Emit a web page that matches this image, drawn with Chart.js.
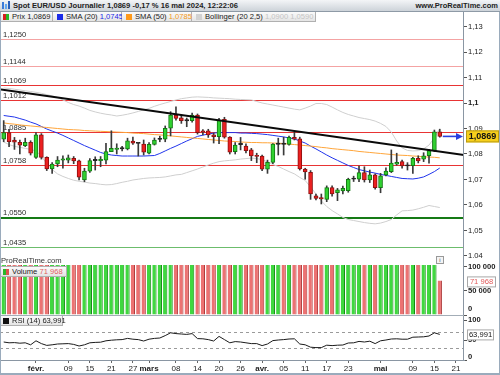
<!DOCTYPE html>
<html>
<head>
<meta charset="utf-8">
<script src="https://cdn.jsdelivr.net/npm/chart.js@4"></script>
<style>
body { margin: 0; background: #fff; font-family: "Liberation Sans", Arial, sans-serif; }
#wrap { position: relative; width: 500px; height: 375px; overflow: hidden; background: #fff; }
canvas { position: absolute; left: 0; }
.t { position: absolute; white-space: nowrap; color: #222; }
.cell { position: absolute; top: 12px; height: 10px; line-height: 10px; font-size: 7.6px; background: linear-gradient(#fbfbfb, #e4e4e4); border-right: 1px solid #b0b0b0; border-bottom: 1px solid #b0b0b0; box-sizing: border-box; white-space: nowrap; color: #222; }
.sq { display: inline-block; width: 6px; height: 6px; vertical-align: -1px; margin: 0 3px 0 4px; }
</style>
</head>
<body>
<div id="wrap">
  <div class="t" style="left:0;top:0;width:500px;height:11px;background:linear-gradient(#f3f5f7,#cdd3d9);border-bottom:1px solid #8e9aa6"></div>
  <div class="t" style="left:2px;top:2px;width:2px;height:7px;background:#3b7bd8"></div>
  <div class="t" style="left:5px;top:4px;width:2px;height:5px;background:#62a8f0"></div>
  <div class="t" style="left:8px;top:1px;width:2px;height:8px;background:#2a5fb8"></div>
  <div class="t" style="left:13px;top:0;line-height:11px;font-size:7.6px;font-weight:bold">Spot EUR/USD Journalier 1,0869 -0,17 % 16 mai 2024, 12:22:06</div>
  <div class="t" style="right:2px;top:0;line-height:11px;font-size:7.5px;font-weight:bold">www.ProRealTime.com</div>

  <canvas id="price" width="500" height="246" style="top:12px"></canvas>
  <canvas id="vol" width="500" height="58" style="top:258px"></canvas>
  <canvas id="rsi" width="500" height="59" style="top:316px"></canvas>

  <div class="cell" style="left:0;width:53px"><span class="sq" style="background:linear-gradient(90deg,#d62020 50%,#28b828 50%);margin-left:3px"></span>Prix 1,0869</div>
  <div class="cell" style="left:53px;width:69px"><span class="sq" style="background:#1a2be8"></span>SMA (20) <span style="color:#1a2be8">1,0745</span></div>
  <div class="cell" style="left:122px;width:70px"><span class="sq" style="background:#ff9a1a"></span>SMA (50) <span style="color:#f39a1a">1,0785</span></div>
  <div class="cell" style="left:192px;width:124px"><span class="sq" style="background:#d2d2d2"></span>Bollinger (20 2,5) <span style="color:#c4c4c4">1,0900 1,0590</span></div>

  <div class="t" style="left:1px;top:256px;font-size:7.6px;line-height:9px;color:#333">ProRealTime.com</div>
  <div class="t" style="left:436px;top:256px;width:6px;height:6px;border:1px solid #999;font-size:6px;line-height:6px;text-align:center;color:#555;background:#f4f4f4">i</div>
  <div class="cell" style="top:266px;left:0;width:67px;border-left:1px solid #b0b0b0;border-top:1px solid #b0b0b0;height:11px"><span class="sq" style="background:linear-gradient(90deg,#28b828 50%,#e05050 50%);margin-left:2px"></span>Volume <span style="color:#e06060">71 968</span></div>
  <div class="cell" style="top:316px;left:0;width:63px;height:10px;border-left:1px solid #b0b0b0"><span class="sq" style="background:#111;margin-left:2px"></span>RSI (14) 63,991</div>

  <div class="t" style="left:463px;top:12px;width:1px;height:349px;background:#8a96a3"></div>
  <div class="t" style="left:0;top:315px;width:464px;height:1px;background:#a3adb7"></div>
  <div class="t" style="left:0;top:12px;width:1px;height:363px;background:#9aabbc"></div>
  <div class="t" style="left:499px;top:12px;width:1px;height:363px;background:#9aabbc"></div>
  <div class="t" style="left:0;top:373px;width:500px;height:2px;background:#9aabbc"></div>
</div>

<script>
// trading days (dd/mm), with a few empty days after the last candle
const dates = [
  '24/01','25/01','26/01','29/01','30/01','31/01',
  '01/02','02/02','05/02','06/02','07/02','08/02','09/02','12/02','13/02','14/02','15/02','16/02',
  '19/02','20/02','21/02','22/02','23/02','26/02','27/02','28/02','29/02',
  '01/03','04/03','05/03','06/03','07/03','08/03','11/03','12/03','13/03','14/03','15/03',
  '18/03','19/03','20/03','21/03','22/03','25/03','26/03','27/03','28/03','29/03',
  '01/04','02/04','03/04','04/04','05/04','08/04','09/04','10/04','11/04','12/04',
  '15/04','16/04','17/04','18/04','19/04','22/04','23/04','24/04','25/04','26/04','29/04','30/04',
  '01/05','02/05','03/05','06/05','07/05','08/05','09/05','10/05','13/05','14/05','15/05','16/05',
  '17/05','20/05','21/05','22/05'
]
const xTicks = ['01/02','09/02','15/02','21/02','27/02','01/03','08/03','14/03','20/03','26/03',
  '01/04','05/04','11/04','17/04','23/04','01/05','09/05','15/05','21/05']
const xTickText = ['févr.','09','15','21','27','mars','08','14','20','26','avr.','05','11','17','23','mai','09','15','21']
const months = ['févr.','mars','avr.','mai']

const opens = [1.0858,1.0884,1.0855,1.0846,1.0833,1.0846,1.0787,1.0875,1.0787,1.0741,
  1.0761,1.0776,1.0776,1.0783,1.0773,1.0698,1.0733,1.0774,1.0774,1.0776,
  1.0809,1.0818,1.0820,1.0820,1.0851,1.0842,1.0839,1.0803,1.0838,1.0857,
  1.0858,1.0901,1.0953,1.0942,1.0931,1.0931,1.0953,1.0888,1.0891,1.0875,
  1.0868,1.0936,1.0866,1.0809,1.0837,1.0831,1.0816,1.0792,1.0792,1.0740,
  1.0767,1.0838,1.0839,1.0838,1.0865,1.0859,1.0741,1.0728,1.0636,1.0626,
  1.0622,1.0668,1.0648,1.0655,1.0656,1.0701,1.0701,1.0727,1.0698,1.0718,
  1.0668,1.0718,1.0731,1.0760,1.0770,1.0754,1.0754,1.0783,1.0780,1.0793,
  1.0813,1.0887]
const highs = [1.0931,1.0897,1.0865,1.0855,1.0862,1.0852,1.0884,1.0880,1.0789,1.0766,
  1.0790,1.0793,1.0796,1.0790,1.0776,1.0744,1.0782,1.0789,1.0790,1.0842,
  1.0891,1.0840,1.0830,1.0862,1.0866,1.0844,1.0855,1.0845,1.0863,1.0870,
  1.0910,1.0966,1.0985,1.0953,1.0941,1.0960,1.0957,1.0896,1.0897,1.0882,
  1.0940,1.0944,1.0868,1.0845,1.0865,1.0840,1.0822,1.0803,1.0796,1.0776,
  1.0841,1.0862,1.0866,1.0870,1.0885,1.0866,1.0744,1.0735,1.0643,1.0643,
  1.0675,1.0675,1.0665,1.0674,1.0705,1.0713,1.0753,1.0750,1.0737,1.0722,
  1.0724,1.0746,1.0816,1.0803,1.0776,1.0766,1.0787,1.0793,1.0805,1.0818,
  1.0894,1.0897]
const lows = [1.0848,1.0829,1.0818,1.0800,1.0829,1.0796,1.0783,1.0780,1.0735,1.0724,
  1.0750,1.0744,1.0765,1.0762,1.0698,1.0691,1.0728,1.0737,1.0750,1.0761,
  1.0809,1.0800,1.0812,1.0816,1.0838,1.0792,1.0796,1.0800,1.0835,1.0848,
  1.0848,1.0871,1.0933,1.0920,1.0907,1.0925,1.0878,1.0875,1.0865,1.0843,
  1.0840,1.0862,1.0800,1.0800,1.0816,1.0804,1.0774,1.0766,1.0735,1.0724,
  1.0762,1.0796,1.0796,1.0835,1.0855,1.0737,1.0701,1.0622,1.0620,1.0604,
  1.0613,1.0635,1.0617,1.0643,1.0650,1.0692,1.0691,1.0690,1.0688,1.0662,
  1.0648,1.0714,1.0727,1.0756,1.0744,1.0737,1.0724,1.0765,1.0770,1.0764,
  1.0809,1.0866]
const closes = [1.0884,1.0848,1.0846,1.0835,1.0846,1.0803,1.0875,1.0787,1.0741,1.0760,
  1.0776,1.0778,1.0785,1.0773,1.0709,1.0733,1.0774,1.0775,1.0776,1.0809,
  1.0822,1.0822,1.0821,1.0852,1.0842,1.0841,1.0807,1.0838,1.0855,1.0858,
  1.0901,1.0953,1.0940,1.0931,1.0930,1.0953,1.0884,1.0886,1.0875,1.0868,
  1.0933,1.0866,1.0807,1.0835,1.0838,1.0813,1.0792,1.0790,1.0740,1.0767,
  1.0839,1.0839,1.0838,1.0865,1.0858,1.0741,1.0730,1.0643,1.0626,1.0624,
  1.0668,1.0643,1.0659,1.0665,1.0701,1.0702,1.0727,1.0698,1.0718,1.0668,
  1.0714,1.0733,1.0764,1.0767,1.0753,1.0753,1.0783,1.0773,1.0793,1.0813,
  1.0887,1.0869]

const sma20 = [1.0951,1.0948,1.0945,1.0939,1.0933,1.0925,1.0918,1.0908,1.0898,1.0890,
  1.0882,1.0873,1.0863,1.0853,1.0843,1.0833,1.0824,1.0815,1.0806,1.0800,
  1.0796,1.0794,1.0792,1.0792,1.0792,1.0792,1.0792,1.0793,1.0794,1.0802,
  1.0812,1.0822,1.0831,1.0841,1.0851,1.0860,1.0869,1.0874,1.0878,1.0882,
  1.0884,1.0884,1.0884,1.0884,1.0882,1.0882,1.0881,1.0880,1.0878,1.0876,
  1.0873,1.0870,1.0867,1.0863,1.0859,1.0851,1.0843,1.0831,1.0820,1.0808,
  1.0796,1.0785,1.0775,1.0765,1.0755,1.0747,1.0739,1.0734,1.0729,1.0725,
  1.0720,1.0716,1.0712,1.0708,1.0704,1.0703,1.0702,1.0705,1.0710,1.0720,
  1.0731,1.0745]
const sma50 = [1.0922,1.0919,1.0917,1.0914,1.0912,1.0910,1.0908,1.0906,1.0904,1.0902,
  1.0900,1.0898,1.0896,1.0895,1.0894,1.0892,1.0891,1.0890,1.0889,1.0888,
  1.0887,1.0886,1.0885,1.0884,1.0882,1.0881,1.0880,1.0878,1.0876,1.0875,
  1.0873,1.0871,1.0869,1.0867,1.0865,1.0863,1.0861,1.0859,1.0857,1.0855,
  1.0853,1.0851,1.0850,1.0849,1.0847,1.0846,1.0845,1.0845,1.0844,1.0844,
  1.0843,1.0842,1.0841,1.0839,1.0837,1.0835,1.0833,1.0831,1.0829,1.0826,
  1.0824,1.0821,1.0819,1.0817,1.0815,1.0813,1.0810,1.0808,1.0806,1.0804,
  1.0802,1.0800,1.0798,1.0796,1.0795,1.0794,1.0792,1.0791,1.0789,1.0788,
  1.0787,1.0785]
const bbUpper = [1.1059,1.1057,1.1054,1.1051,1.1048,1.1045,1.1042,1.1038,1.1033,1.1028,
  1.1022,1.1012,1.1002,1.0994,1.0988,1.0980,1.0971,1.0965,1.0960,1.0956,
  1.0953,1.0949,1.0952,1.0956,1.0961,1.0967,1.0973,1.0979,1.0987,1.0994,
  1.1000,1.1006,1.1012,1.1017,1.1020,1.1023,1.1024,1.1023,1.1022,1.1020,
  1.1019,1.1018,1.1017,1.1015,1.1014,1.1013,1.1012,1.1006,1.1000,1.0996,
  1.0992,1.0988,1.0984,1.0980,1.0976,1.0973,1.0980,1.0988,1.0998,1.0998,
  1.0994,1.0984,1.0973,1.0963,1.0955,1.0949,1.0943,1.0939,1.0935,1.0929,
  1.0920,1.0908,1.0886,1.0851,1.0824,1.0814,1.0812,1.0813,1.0820,1.0835,
  1.0863,1.0900]
const bbLower = [1.0847,1.0837,1.0830,1.0826,1.0822,1.0818,1.0812,1.0792,1.0761,1.0739,
  1.0722,1.0712,1.0704,1.0697,1.0693,1.0690,1.0686,1.0684,1.0681,1.0679,
  1.0680,1.0684,1.0689,1.0693,1.0698,1.0701,1.0704,1.0706,1.0707,1.0708,
  1.0710,1.0714,1.0718,1.0720,1.0727,1.0734,1.0741,1.0749,1.0757,1.0764,
  1.0770,1.0773,1.0775,1.0777,1.0780,1.0782,1.0784,1.0782,1.0778,1.0769,
  1.0759,1.0751,1.0741,1.0731,1.0722,1.0708,1.0696,1.0671,1.0643,1.0616,
  1.0594,1.0578,1.0565,1.0551,1.0543,1.0539,1.0535,1.0531,1.0528,1.0526,
  1.0529,1.0535,1.0543,1.0561,1.0577,1.0578,1.0580,1.0585,1.0591,1.0598,
  1.0594,1.0590]

const volumes = [104000,104000,104000,104000,104000,104000,104000,104000,104000,104000,
  104000,104000,104000,104000,104000,104000,104000,104000,104000,104000,
  104000,104000,104000,104000,104000,104000,104000,104000,104000,104000,
  104000,104000,104000,104000,104000,104000,104000,104000,104000,104000,
  104000,104000,104000,104000,104000,104000,104000,104000,104000,104000,
  104000,104000,104000,104000,104000,104000,104000,104000,104000,104000,
  104000,104000,104000,104000,104000,104000,104000,104000,104000,104000,
  104000,104000,104000,104000,104000,104000,104000,104000,104000,104000,
  104000,71968]
const volTicks = [0, 50000, 100000]

const rsi = [45,43,43.5,42,43,38,48,41,36.5,38,
  40,40.5,41,39,35,38,43,44,44.5,48,
  49.5,50.5,51,54,52,51,47.5,52,54,55,
  61,68,66,65,64,66,53.5,53,51,47.5,
  59,51,43,46,45,43,41,41,36,40,
  48.5,50,51,52.5,53,40,38,32,31,31,
  37,36,37,37.5,42.5,43,46.5,45,47,41,
  48,50,52.5,53,52,52,57,57.5,58,60,
  68,64]
const rsiTicks = [0, 50, 100]
const rsiLevels = [70, 30]

const levels = [1.1250, 1.1144, 1.1069, 1.1012, 1.0885, 1.0758, 1.0550, 1.0435]
const levelColors = ['#f4a3a3','#f4a3a3','#e83434','#e83434','#e83434','#e83434','#157a15','#6cbd6c']
const levelWidths = [1, 1, 1, 1, 1, 1, 2, 1]
const trendStart = 1.1053, trendEnd = 1.0796
const lastPrice = 1.0869, lastVolume = 71968, lastRsi = 63.991

const FONT = '"Liberation Sans", Arial, sans-serif'
const fmtComma = (v, d) => v.toFixed(d).replace('.', ',')
const fixAxis = (w) => (s) => { s.width = w; s.paddingTop = 0; s.paddingBottom = 0 }
const setTicks = (vals) => (s) => { s.ticks = vals.map(v => ({ value: v })) }

const up = opens.map((o, i) => closes[i] >= o)
const doji = opens.map((o, i) => Math.abs(closes[i] - o) < 0.00015)

// the "0" label of the lower panels sits a little inside the panel, as in PRT
function drawZero(chart, lift) {
  const { ctx, scales: { y } } = chart
  ctx.save()
  ctx.fillStyle = '#222'; ctx.font = 'bold 7.6px ' + FONT
  ctx.textAlign = 'left'; ctx.textBaseline = 'middle'
  ctx.fillText('0', y.left + 4, y.getPixelForValue(0) - lift)
  ctx.restore()
}

function valueBox(ctx, py, w, text, color) {
  ctx.fillStyle = '#fff'; ctx.strokeStyle = '#a8a8a8'; ctx.lineWidth = 1
  ctx.fillRect(467, py - 4.5, w, 10); ctx.strokeRect(467.5, py - 4.5, w - 1, 10)
  ctx.fillStyle = color; ctx.font = '7.6px ' + FONT
  ctx.textAlign = 'center'; ctx.textBaseline = 'middle'
  ctx.fillText(text, 467 + w / 2, py + 0.8)
}

const priceDecor = {
  id: 'priceDecor',
  beforeDatasetsDraw(chart) {
    const { ctx, chartArea: a, scales: { y } } = chart
    ctx.save()
    levels.forEach((lv, i) => {
      const py = Math.round(y.getPixelForValue(lv)) + (levelWidths[i] === 1 ? 0.5 : 0)
      ctx.strokeStyle = levelColors[i]
      ctx.lineWidth = levelWidths[i]
      ctx.beginPath(); ctx.moveTo(0, py); ctx.lineTo(a.right, py); ctx.stroke()
      ctx.fillStyle = '#2a2a2a'
      ctx.font = '7.6px ' + FONT
      ctx.textBaseline = 'bottom'
      ctx.fillText(fmtComma(lv, 4), 3, py - 1)
    })
    ctx.restore()
  },
  afterDraw(chart) {
    const { ctx, chartArea: a, scales: { x, y } } = chart
    const py = y.getPixelForValue(lastPrice)
    const x0 = x.getPixelForValue(closes.length - 1) + 3
    ctx.save()
    ctx.strokeStyle = '#2a40e0'; ctx.fillStyle = '#2a40e0'; ctx.lineWidth = 1.6
    ctx.beginPath(); ctx.moveTo(x0, py); ctx.lineTo(a.right - 6, py); ctx.stroke()
    ctx.beginPath(); ctx.moveTo(a.right - 1, py); ctx.lineTo(a.right - 8, py - 3.5); ctx.lineTo(a.right - 8, py + 3.5); ctx.closePath(); ctx.fill()
    ctx.fillStyle = '#f6cf1c'; ctx.strokeStyle = '#b99a10'; ctx.lineWidth = 1
    ctx.fillRect(466, py - 6, 33, 12); ctx.strokeRect(466.5, py - 5.5, 32, 11)
    ctx.fillStyle = '#111'; ctx.font = 'bold 9px ' + FONT
    ctx.textAlign = 'center'; ctx.textBaseline = 'middle'
    ctx.fillText(fmtComma(lastPrice, 4), 482.5, py + 0.5)
    ctx.restore()
  }
}

new Chart(document.getElementById('price'), {
  type: 'bar',
  data: {
    labels: dates,
    datasets: [
      { type: 'line', data: bbUpper, borderColor: '#cfcfcf', borderWidth: 1, pointRadius: 0, order: 5 },
      { type: 'line', data: bbLower, borderColor: '#cfcfcf', borderWidth: 1, pointRadius: 0, order: 5 },
      { type: 'line', data: sma50, borderColor: '#ffa53a', borderWidth: 1, pointRadius: 0, order: 4 },
      { type: 'line', data: sma20, borderColor: '#2034ec', borderWidth: 1, pointRadius: 0, order: 4 },
      { data: lows.map((l, i) => [l, highs[i]]), backgroundColor: '#3a3a3a', barThickness: 1, grouped: false, order: 2 },
      { data: opens.map((o, i) => [o, closes[i]]),
        backgroundColor: up.map((u, i) => doji[i] ? '#222' : u ? '#30d030' : '#ec2020'),
        borderColor: up.map((u, i) => doji[i] ? '#222' : u ? '#137a13' : '#8e1010'),
        borderWidth: 1, borderSkipped: false, barThickness: 4, minBarLength: 1.2, grouped: false, order: 1 },
      { type: 'line', xAxisID: 'xl', data: [{ x: -0.5, y: trendStart }, { x: 85.5, y: trendEnd }],
        borderColor: '#0a0a0a', borderWidth: 2, pointRadius: 0, order: 0 }
    ]
  },
  options: {
    responsive: false, animation: false, devicePixelRatio: 1,
    layout: { padding: { left: 1, right: 0, top: 0, bottom: 0 } },
    plugins: { legend: { display: false }, tooltip: { enabled: false } },
    scales: {
      x: { type: 'category', offset: true, display: false },
      xl: { type: 'linear', min: -0.5, max: 85.5, offset: false, display: false },
      y: {
        position: 'right', min: 1.0392, max: 1.1357,
        afterFit: fixAxis(36),
        border: { display: false },
        grid: { drawOnChartArea: false, drawTicks: true, tickLength: 3, color: '#555' },
        ticks: {
          stepSize: 0.01, includeBounds: false, padding: 1, color: '#222',
          font: (c) => ({ family: FONT, size: 7.6, weight: c.tick && Math.abs(c.tick.value - 1.1) < 1e-6 ? 'bold' : 'normal' }),
          callback: (v) => String(+v.toFixed(2)).replace('.', ',')
        }
      }
    }
  },
  plugins: [priceDecor]
})

new Chart(document.getElementById('vol'), {
  type: 'bar',
  data: {
    labels: dates,
    datasets: [{
      data: volumes,
      backgroundColor: up.map(u => u ? '#3fd83f' : '#ec7272'),
      borderColor: up.map(u => u ? '#148a14' : '#a83030'),
      borderWidth: { left: 0, right: 1, top: 0, bottom: 0 },
      barPercentage: 0.8, categoryPercentage: 1
    }]
  },
  options: {
    responsive: false, animation: false, devicePixelRatio: 1,
    layout: { padding: { left: 1, right: 0, top: 7, bottom: 1 } },
    plugins: { legend: { display: false }, tooltip: { enabled: false } },
    scales: {
      x: { type: 'category', offset: true, display: false },
      y: {
        position: 'right', min: 0, max: 104000,
        afterBuildTicks: setTicks(volTicks),
        afterFit: fixAxis(36),
        border: { display: false },
        grid: { drawOnChartArea: false, tickLength: 3, color: '#555' },
        ticks: {
          padding: 1, color: '#222',
          font: { family: FONT, size: 7.6, weight: 'bold' },
          callback: (v) => v === 0 ? '' : (v / 1000) + ' 000'
        }
      }
    }
  },
  plugins: [{
    id: 'volDecor',
    afterDraw(chart) {
      drawZero(chart, 6)
      const { ctx, scales: { y } } = chart
      ctx.save()
      valueBox(ctx, y.getPixelForValue(lastVolume) + 1, 29, '71 968', '#e05a5a')
      ctx.restore()
    }
  }]
})

new Chart(document.getElementById('rsi'), {
  type: 'line',
  data: {
    labels: dates,
    datasets: [{ data: rsi, borderColor: '#1a1a1a', borderWidth: 1, pointRadius: 0 }]
  },
  options: {
    responsive: false, animation: false, devicePixelRatio: 1,
    layout: { padding: { left: 1, right: 0, top: 4, bottom: 0 } },
    plugins: { legend: { display: false }, tooltip: { enabled: false } },
    scales: {
      x: {
        type: 'category', offset: true,
        afterBuildTicks: (s) => { s.ticks = s.ticks.filter(t => xTicks.includes(dates[t.value])) },
        afterFit: (s) => { s.height = 15; s.paddingLeft = 0; s.paddingRight = 0 },
        border: { display: true, color: '#8a96a3' },
        grid: { drawOnChartArea: false, tickLength: 3, color: '#666' },
        ticks: {
          autoSkip: false, maxRotation: 0, padding: 1, color: '#222',
          callback: (v) => xTickText[xTicks.indexOf(dates[v])],
          font: (c) => ({ family: FONT, size: 8, weight: c.tick && months.includes(c.tick.label) ? 'bold' : 'normal' })
        }
      },
      y: {
        position: 'right', min: 0, max: 100,
        afterBuildTicks: setTicks(rsiTicks),
        afterFit: fixAxis(36),
        border: { display: false },
        grid: { drawOnChartArea: false, tickLength: 3, color: '#555' },
        ticks: {
          padding: 1, color: '#222', font: { family: FONT, size: 7.6, weight: 'bold' },
          callback: (v) => v === 0 ? '' : String(v)
        }
      }
    }
  },
  plugins: [{
    id: 'rsiDecor',
    beforeDatasetsDraw(chart) {
      const { ctx, chartArea: a, scales: { y } } = chart
      ctx.save()
      ctx.strokeStyle = '#9a9a9a'; ctx.lineWidth = 1; ctx.setLineDash([3, 3])
      rsiLevels.forEach(v => {
        const py = Math.round(y.getPixelForValue(v)) + 0.5
        ctx.beginPath(); ctx.moveTo(0, py); ctx.lineTo(a.right, py); ctx.stroke()
      })
      ctx.restore()
    },
    afterDraw(chart) {
      drawZero(chart, 3)
      const { ctx, scales: { y } } = chart
      ctx.save()
      valueBox(ctx, y.getPixelForValue(lastRsi), 27, fmtComma(lastRsi, 3), '#111')
      ctx.restore()
    }
  }]
})
</script>
</body>
</html>
